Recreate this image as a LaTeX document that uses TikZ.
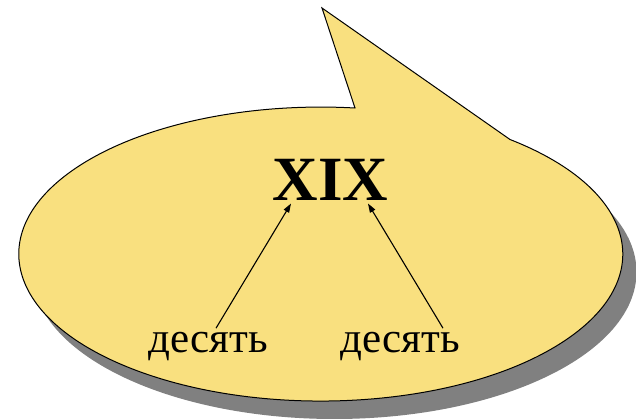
\documentclass[tikz,border=0pt]{standalone}
\usepackage{fontspec}
\setmainfont{Liberation Serif}
\usetikzlibrary{arrows.meta,calc}
\definecolor{bubble}{HTML}{F9E07F}
\definecolor{shadowgray}{HTML}{808080}

\begin{document}
\begin{tikzpicture}[x=1pt, y=1pt, >={Triangle[length=9pt,width=6pt]},
    word/.style={font=\fontsize{43}{48}\selectfont, anchor=base},
    arr/.style={->, line width=1.1pt}]
  \useasboundingbox (0,0) rectangle (636,418);
  %% Shadow of the bubble
  \fill[shadowgray] (334.5,146) ellipse[x radius=302, y radius=147];
  %% Bubble with its tail
  \draw[line width=1pt, fill=bubble] (355,310) -- (322,410) -- (510,278.5)
    arc[start angle=51.2, end angle=-276.6, x radius=302, y radius=147] -- cycle;
  %% Texts
  \node[word, font=\fontsize{63}{70}\selectfont\bfseries] (xix) at (330.5,218) {XIX};
  \node[word] (tenl) at (208.5,66) {десять};
  \node[word] (tenr) at (400.5,66) {десять};
  %% Arrows
  \draw[arr] ([xshift=7.5pt]tenl.north) -- ([xshift=-39.5pt]xix.south);
  \draw[arr] ([xshift=42.5pt]tenr.north) -- ([xshift=37.5pt]xix.south);
\end{tikzpicture}
\end{document}
